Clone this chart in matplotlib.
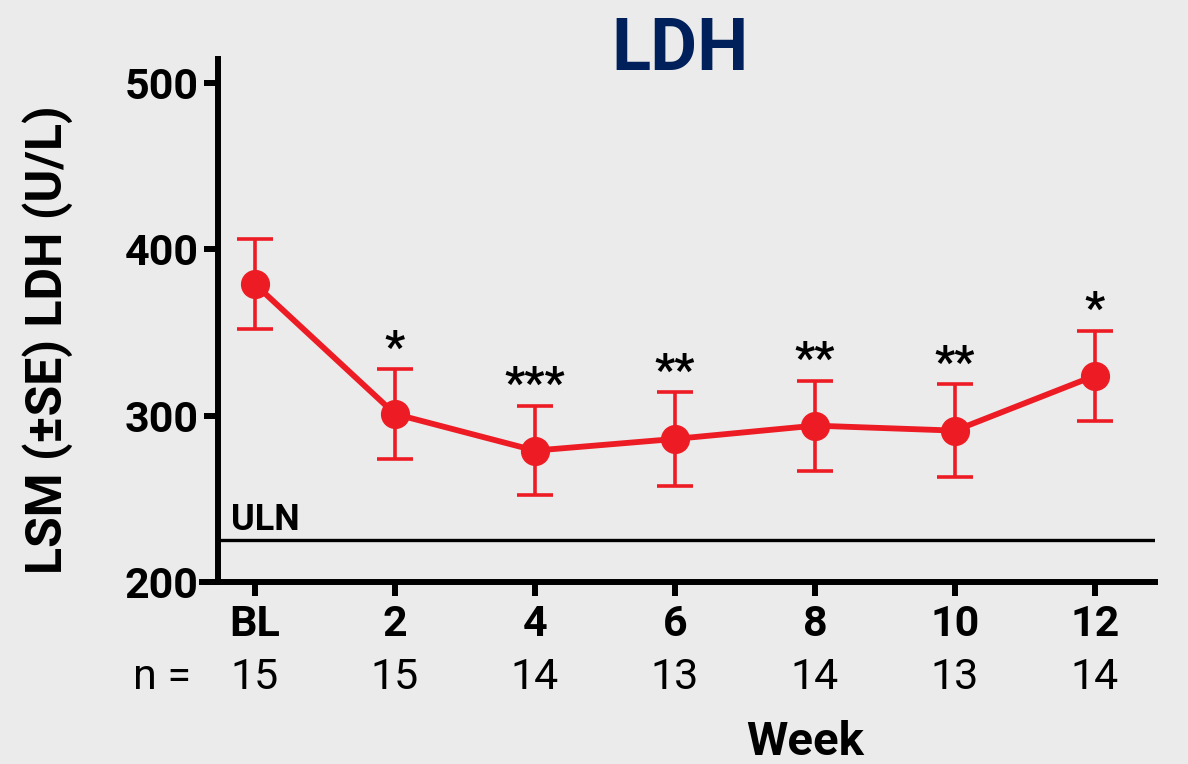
import numpy as np
import matplotlib.pyplot as plt

plt.rcParams['font.family'] = ['Roboto', 'DejaVu Sans']

weeks = ['BL', '2', '4', '6', '8', '10', '12']
n_subjects = [15, 15, 14, 13, 14, 13, 14]
ldh_lsm = [379, 301, 279, 286, 294, 291, 324]
ldh_se = [27, 27, 27, 28, 27, 28, 27]
stars = ['', '*', '***', '**', '**', '**', '*']
uln = 225

red = '#ED1C24'
bg = '#EBEBEB'

fig = plt.figure(figsize=(11.88, 7.64), dpi=100, facecolor=bg)
ax = fig.add_axes([202 / 1188, 1 - 582 / 764, (1155 - 202) / 1188, (582 - 59) / 764])
ax.set_facecolor(bg)

x = np.arange(len(weeks))
ax.errorbar(x, ldh_lsm, yerr=ldh_se, color=red, lw=4.2, marker='o', ms=20,
            elinewidth=2.6, capsize=13, capthick=2.6, zorder=3)

# significance markers above each error bar
for xi, m, se, s in zip(x, ldh_lsm, ldh_se, stars):
    if s:
        ax.annotate(s, (xi, m + se), xytext=(0, -1), textcoords='offset points',
                    ha='center', va='bottom', fontsize=32, fontweight='bold')

# upper limit of normal
x_left = -0.264
ax.hlines(uln, x_left, 6.43, color='black', lw=2.4, zorder=2)
ax.text(x_left + 0.09, uln + 1.5, 'ULN', fontsize=26, fontweight='bold', va='bottom')

ax.set_xlim(-0.379, 6.43)
ax.set_ylim(200, 514.4)
ax.spines['left'].set_position(('data', x_left))
ax.spines['left'].set_bounds(200, 514.4)
for side in ['top', 'right']:
    ax.spines[side].set_visible(False)
for side in ['left', 'bottom']:
    ax.spines[side].set_linewidth(4.3)

ax.set_yticks([200, 300, 400, 500])
ax.set_xticks(x)
ax.set_xticklabels(weeks)
ax.tick_params(axis='both', width=4.3, length=10, labelsize=31)
ax.tick_params(axis='y', pad=4)
ax.tick_params(axis='x', pad=6)
for lbl in ax.get_xticklabels() + ax.get_yticklabels():
    lbl.set_fontweight('bold')

# n counts under the week labels
ax.text(-0.46, -0.182, 'n =', transform=ax.get_xaxis_transform(), ha='right',
        va='center', fontsize=31)
for xi, n in zip(x, n_subjects):
    ax.text(xi, -0.182, str(n), transform=ax.get_xaxis_transform(),
            ha='center', va='center', fontsize=31)

ax.text(3.93, -0.305, 'Week', transform=ax.get_xaxis_transform(), ha='center',
        va='center', fontsize=34, fontweight='bold')

fig.text(48 / 1188, 1 - 340 / 764, 'LSM (\u00b1SE) LDH (U/L)', rotation=90,
         ha='center', va='center', fontsize=36, fontweight='bold')
fig.text(680 / 1188, 1 - 51 / 764, 'LDH', ha='center', va='center',
         fontsize=52, fontweight='bold', color='#00205B')

fig.savefig('out.png', dpi=100, facecolor=bg)
